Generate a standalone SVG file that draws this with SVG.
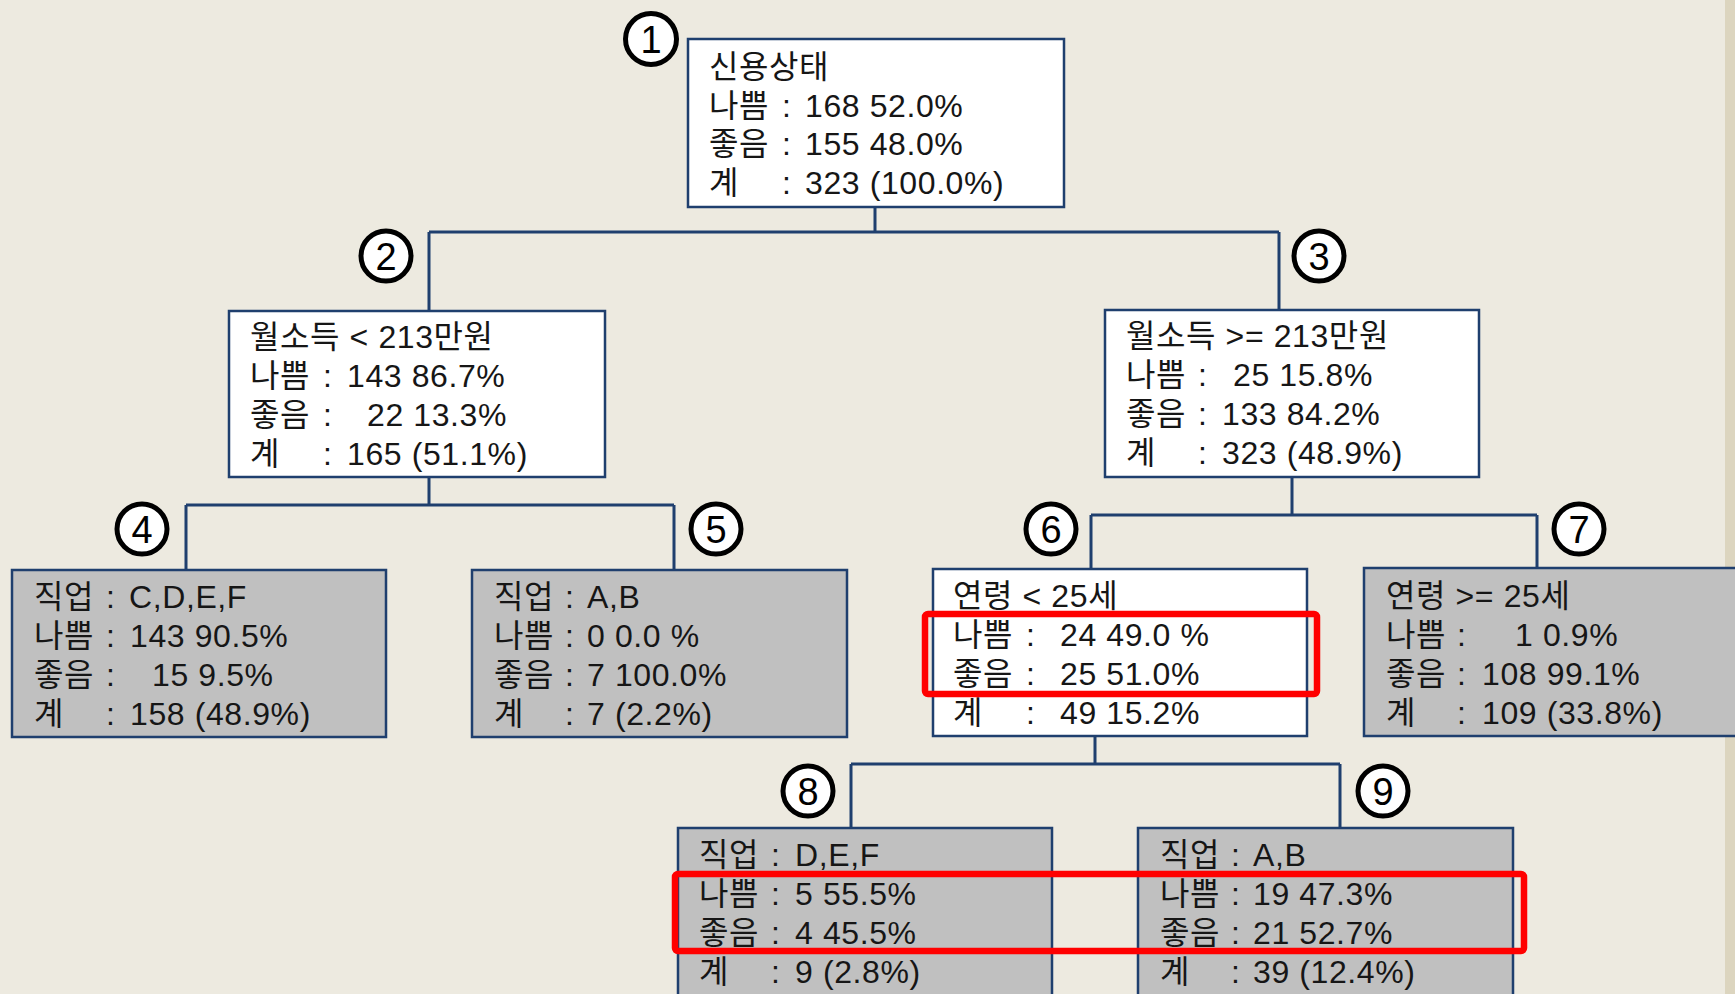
<svg xmlns="http://www.w3.org/2000/svg" width="1735" height="994" viewBox="0 0 1735 994">
  <style>
    .bg { fill: #EDEAE0; }
    .edge { fill: #DCD5BF; }
    .box { stroke: #1F3F6E; stroke-width: 2.5; }
    .white { fill: #FFFFFF; }
    .gray { fill: #C0C0C0; }
    .t { font-family: "Liberation Sans", "Noto Sans CJK KR", sans-serif; font-size: 32px; letter-spacing: 0.6px; fill: #161616; }
    .wire { fill: none; stroke: #1F3F6E; stroke-width: 3; }
    .badge circle { fill: #FFFFFF; stroke: #000000; stroke-width: 5; }
    .badge text { font-family: "Liberation Sans", sans-serif; font-size: 38px; fill: #000000; text-anchor: middle; }
    .hl { fill: none; stroke: #FF0000; stroke-width: 6.5; }
  </style>

  <rect class="bg" x="0" y="0" width="1735" height="994"/>
  <rect class="edge" x="1725" y="0" width="10" height="994"/>

  <!-- tree connectors -->
  <g id="connectors">
    <path class="wire" d="M875 207 V232 M429 232 H1279 M429 232 V311 M1279 232 V310"/>
    <path class="wire" d="M429 477 V505 M186 505 H674 M186 505 V570 M674 505 V570"/>
    <path class="wire" d="M1292 477 V515 M1091 515 H1537 M1091 515 V569 M1537 515 V568"/>
    <path class="wire" d="M1095 736 V764 M851 764 H1340 M851 764 V828 M1340 764 V828"/>
  </g>

  <!-- node 1 -->
  <g id="node1">
    <rect class="box white" x="688" y="39" width="376" height="168"/>
    <text class="t" x="709" y="78">신용상태</text>
    <text class="t" x="709" y="117">나쁨</text><text class="t" x="782" y="117">:</text><text class="t" x="805" y="117">168 52.0%</text>
    <text class="t" x="709" y="155">좋음</text><text class="t" x="782" y="155">:</text><text class="t" x="805" y="155">155 48.0%</text>
    <text class="t" x="709" y="194">계</text><text class="t" x="782" y="194">:</text><text class="t" x="805" y="194">323 (100.0%)</text>
  </g>

  <!-- node 2 -->
  <g id="node2">
    <rect class="box white" x="229" y="311" width="376" height="166"/>
    <text class="t" x="250" y="348">월소득 &lt; 213만원</text>
    <text class="t" x="250" y="387">나쁨</text><text class="t" x="323" y="387">:</text><text class="t" x="347" y="387">143 86.7%</text>
    <text class="t" x="250" y="426">좋음</text><text class="t" x="323" y="426">:</text><text class="t" x="367" y="426">22 13.3%</text>
    <text class="t" x="250" y="465">계</text><text class="t" x="323" y="465">:</text><text class="t" x="347" y="465">165 (51.1%)</text>
  </g>

  <!-- node 3 -->
  <g id="node3">
    <rect class="box white" x="1105" y="310" width="374" height="167"/>
    <text class="t" x="1126" y="347">월소득 &gt;= 213만원</text>
    <text class="t" x="1126" y="386">나쁨</text><text class="t" x="1198" y="386">:</text><text class="t" x="1233" y="386">25 15.8%</text>
    <text class="t" x="1126" y="425">좋음</text><text class="t" x="1198" y="425">:</text><text class="t" x="1222" y="425">133 84.2%</text>
    <text class="t" x="1126" y="464">계</text><text class="t" x="1198" y="464">:</text><text class="t" x="1222" y="464">323 (48.9%)</text>
  </g>

  <!-- node 4 -->
  <g id="node4">
    <rect class="box gray" x="12" y="570" width="374" height="167"/>
    <text class="t" x="34" y="608">직업</text><text class="t" x="106" y="608">:</text><text class="t" x="129" y="608">C,D,E,F</text>
    <text class="t" x="34" y="647">나쁨</text><text class="t" x="106" y="647">:</text><text class="t" x="130" y="647">143 90.5%</text>
    <text class="t" x="34" y="686">좋음</text><text class="t" x="106" y="686">:</text><text class="t" x="152" y="686">15 9.5%</text>
    <text class="t" x="34" y="725">계</text><text class="t" x="106" y="725">:</text><text class="t" x="130" y="725">158 (48.9%)</text>
  </g>

  <!-- node 5 -->
  <g id="node5">
    <rect class="box gray" x="472" y="570" width="375" height="167"/>
    <text class="t" x="494" y="608">직업</text><text class="t" x="565" y="608">:</text><text class="t" x="587" y="608">A,B</text>
    <text class="t" x="494" y="647">나쁨</text><text class="t" x="565" y="647">:</text><text class="t" x="587" y="647">0 0.0 %</text>
    <text class="t" x="494" y="686">좋음</text><text class="t" x="565" y="686">:</text><text class="t" x="587" y="686">7 100.0%</text>
    <text class="t" x="494" y="725">계</text><text class="t" x="565" y="725">:</text><text class="t" x="587" y="725">7 (2.2%)</text>
  </g>

  <!-- node 6 -->
  <g id="node6">
    <rect class="box white" x="933" y="569" width="374" height="167"/>
    <text class="t" x="953" y="607">연령 &lt; 25세</text>
    <text class="t" x="953" y="646">나쁨</text><text class="t" x="1026" y="646">:</text><text class="t" x="1060" y="646">24 49.0 %</text>
    <text class="t" x="953" y="685">좋음</text><text class="t" x="1026" y="685">:</text><text class="t" x="1060" y="685">25 51.0%</text>
    <text class="t" x="953" y="724">계</text><text class="t" x="1026" y="724">:</text><text class="t" x="1060" y="724">49 15.2%</text>
  </g>

  <!-- node 7 -->
  <g id="node7">
    <rect class="box gray" x="1364" y="568" width="400" height="168"/>
    <text class="t" x="1386" y="607">연령 &gt;= 25세</text>
    <text class="t" x="1386" y="646">나쁨</text><text class="t" x="1457" y="646">:</text><text class="t" x="1515" y="646">1 0.9%</text>
    <text class="t" x="1386" y="685">좋음</text><text class="t" x="1457" y="685">:</text><text class="t" x="1482" y="685">108 99.1%</text>
    <text class="t" x="1386" y="724">계</text><text class="t" x="1457" y="724">:</text><text class="t" x="1482" y="724">109 (33.8%)</text>
  </g>

  <!-- node 8 -->
  <g id="node8">
    <rect class="box gray" x="678" y="828" width="374" height="180"/>
    <text class="t" x="699" y="866">직업</text><text class="t" x="771" y="866">:</text><text class="t" x="795" y="866">D,E,F</text>
    <text class="t" x="699" y="905">나쁨</text><text class="t" x="771" y="905">:</text><text class="t" x="795" y="905">5 55.5%</text>
    <text class="t" x="699" y="944">좋음</text><text class="t" x="771" y="944">:</text><text class="t" x="795" y="944">4 45.5%</text>
    <text class="t" x="699" y="983">계</text><text class="t" x="771" y="983">:</text><text class="t" x="795" y="983">9 (2.8%)</text>
  </g>

  <!-- node 9 -->
  <g id="node9">
    <rect class="box gray" x="1138" y="828" width="375" height="180"/>
    <text class="t" x="1160" y="866">직업</text><text class="t" x="1231" y="866">:</text><text class="t" x="1253" y="866">A,B</text>
    <text class="t" x="1160" y="905">나쁨</text><text class="t" x="1231" y="905">:</text><text class="t" x="1253" y="905">19 47.3%</text>
    <text class="t" x="1160" y="944">좋음</text><text class="t" x="1231" y="944">:</text><text class="t" x="1253" y="944">21 52.7%</text>
    <text class="t" x="1160" y="983">계</text><text class="t" x="1231" y="983">:</text><text class="t" x="1253" y="983">39 (12.4%)</text>
  </g>

  <!-- numbered badges -->
  <g id="badges" class="badge">
    <g id="badge1"><circle cx="651" cy="39" r="25.5"/><text x="651" y="53">1</text></g>
    <g id="badge2"><circle cx="386" cy="256" r="25"/><text x="386" y="270">2</text></g>
    <g id="badge3"><circle cx="1319" cy="256" r="25"/><text x="1319" y="270">3</text></g>
    <g id="badge4"><circle cx="142" cy="529" r="25"/><text x="142" y="543">4</text></g>
    <g id="badge5"><circle cx="716" cy="529" r="25"/><text x="716" y="543">5</text></g>
    <g id="badge6"><circle cx="1051" cy="529" r="25"/><text x="1051" y="543">6</text></g>
    <g id="badge7"><circle cx="1579" cy="529" r="25"/><text x="1579" y="543">7</text></g>
    <g id="badge8"><circle cx="808" cy="791" r="25"/><text x="808" y="805">8</text></g>
    <g id="badge9"><circle cx="1383" cy="791" r="25"/><text x="1383" y="805">9</text></g>
  </g>

  <!-- red emphasis frames -->
  <g id="highlights">
    <rect class="hl" x="925" y="614" width="392" height="80" rx="3"/>
    <rect class="hl" x="675" y="874" width="849" height="77" rx="3"/>
  </g>
</svg>
